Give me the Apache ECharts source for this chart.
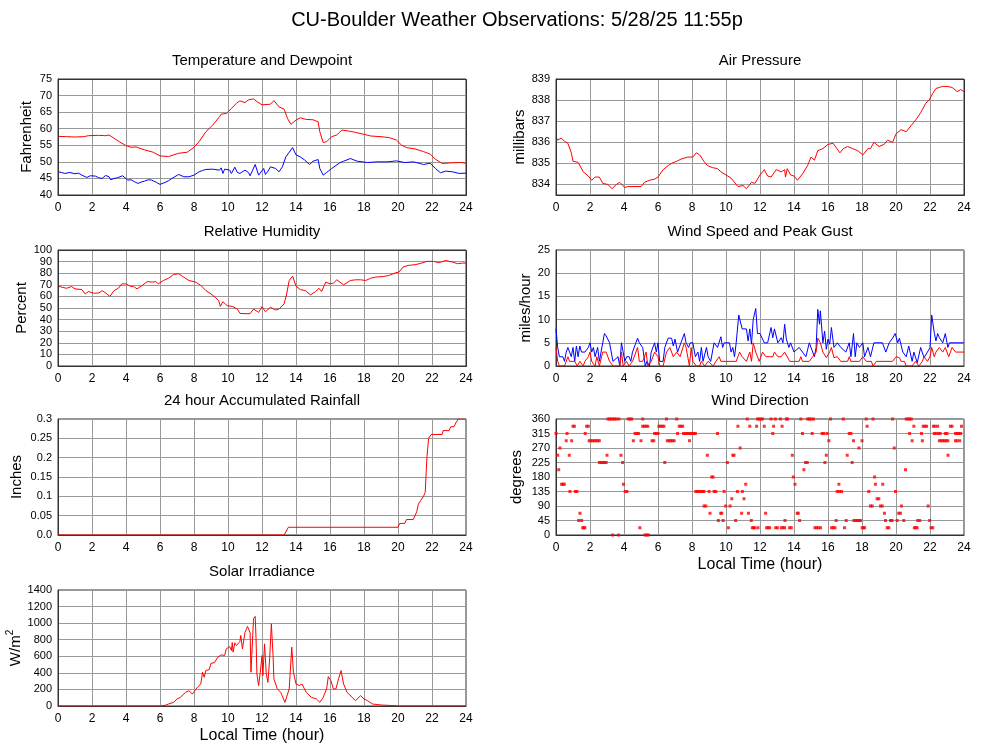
<!DOCTYPE html>
<html><head><meta charset="utf-8">
<script src="https://cdn.jsdelivr.net/npm/echarts@6/dist/echarts.min.js"></script>
<style>html,body{margin:0;padding:0;background:#fff}#c{width:1000px;height:745px}</style>
</head><body><div id="c"></div>
<script>
// ---------- DATA (hour, value) ----------
const temperature = [[0,57.7],[0.5,57.6],[1,57.5],[1.5,57.6],[1.8,57.9],[2.4,58],[2.8,57.9],[3.0,58.1],[3.3,57.1],[3.6,56.1],[4,54.9],[4.3,54.4],[4.6,54.5],[5.1,53.6],[5.6,52.9],[6.0,51.8],[6.5,51.6],[7.1,52.6],[7.6,52.9],[8.0,54.4],[8.3,56.1],[8.7,59.1],[9.1,61.1],[9.5,63.6],[9.6,64.4],[9.9,64.6],[10.2,66.1],[10.5,67.7],[10.7,68.4],[11.0,67.9],[11.2,68.7],[11.5,69],[11.7,68.2],[12.0,67.2],[12.5,67.4],[12.7,68.5],[13.0,66.6],[13.3,65.9],[13.5,63.1],[13.7,61.3],[14.0,62.6],[14.25,63.3],[14.6,62.8],[15.0,62.7],[15.3,62.1],[15.4,59.1],[15.6,55.8],[15.8,56.1],[16.1,57.6],[16.4,58.1],[16.7,59.6],[17.1,59.3],[17.5,58.9],[18.0,58.3],[18.4,57.8],[19.0,57.6],[19.5,57.3],[19.9,56.6],[20.2,55.1],[20.5,54.3],[21.0,53.9],[21.5,53.1],[21.9,52.3],[22.2,50.8],[22.6,49.5],[23.1,49.7],[23.7,49.8],[24,49.6]];
const dewpoint = [[0,47.0],[0.2,46.8],[0.4,46.5],[0.7,46.8],[1.0,46.4],[1.2,46.6],[1.4,46],[1.7,45.3],[1.9,45.8],[2.2,45.7],[2.4,45.2],[2.6,45],[2.8,45.9],[3.0,45.5],[3.1,44.6],[3.3,45],[3.5,45.2],[3.8,45.8],[4.1,44.5],[4.3,44.6],[4.5,44],[4.7,43.5],[4.9,43.9],[5.1,44.2],[5.3,44.6],[5.5,44.5],[5.8,43.8],[6.0,43.2],[6.3,43.8],[6.5,44.3],[6.7,45],[7.1,46.2],[7.4,45.5],[7.7,45.5],[8.0,46],[8.3,47],[8.5,47.4],[8.7,47.7],[9.1,47.8],[9.5,47.5],[9.6,48.2],[9.7,46.5],[9.8,47.8],[10.1,47.5],[10.2,46.5],[10.4,48.4],[10.55,46.8],[10.7,46.5],[11.0,47.5],[11.2,46.8],[11.3,45.8],[11.45,47.5],[11.6,49.2],[11.8,46],[12.1,48],[12.2,46.2],[12.35,47.2],[12.5,48.5],[12.8,48],[13.0,47],[13.2,48.5],[13.4,51.5],[13.6,52.9],[13.8,54.3],[14.0,52.1],[14.25,51.5],[14.5,50.6],[14.8,49.2],[15.0,50.2],[15.3,50.7],[15.4,48],[15.6,46],[15.8,46.8],[16.1,48],[16.6,49.8],[16.8,50.2],[17.2,51],[17.6,50.2],[18.2,49.8],[18.8,50],[19.4,50],[19.9,50.3],[20.4,49.8],[20.9,50],[21.3,49.5],[21.5,49.2],[21.9,49.6],[22.2,48],[22.5,46.7],[22.8,47.2],[23.2,47],[23.6,46.5],[24,46.6]];
const pressure = [[0,836.26],[0.1,836.1],[0.3,836.2],[0.5,836.05],[0.7,835.95],[0.9,835.5],[1.0,835.1],[1.3,835.05],[1.6,834.6],[1.9,834.4],[2.1,834.2],[2.3,834.35],[2.55,834.35],[2.75,834.05],[3.05,834.0],[3.3,833.8],[3.55,834.0],[3.75,834.1],[4.05,833.85],[4.2,833.9],[5.0,833.9],[5.2,834.1],[5.5,834.2],[5.8,834.25],[6.0,834.35],[6.3,834.7],[6.6,834.9],[6.8,835.0],[7.1,835.1],[7.35,835.2],[7.75,835.3],[8.05,835.3],[8.25,835.5],[8.45,835.4],[8.7,835.1],[8.9,834.9],[9.2,834.8],[9.5,834.75],[9.7,834.6],[10.0,834.45],[10.3,834.3],[10.7,833.9],[11.0,833.95],[11.2,833.8],[11.5,834.1],[11.7,834.05],[12.0,834.45],[12.25,834.7],[12.45,834.4],[12.65,834.35],[12.95,834.7],[13.25,834.6],[13.45,834.7],[13.5,834.35],[13.6,834.75],[13.8,834.45],[14.0,834.4],[14.2,834.2],[14.5,834.5],[14.8,834.9],[15.0,835.3],[15.2,835.15],[15.4,835.6],[15.7,835.7],[16.0,835.9],[16.3,835.95],[16.4,836.0],[16.7,835.5],[16.9,835.7],[17.15,835.8],[17.45,835.7],[17.75,835.6],[18.05,835.4],[18.35,835.7],[18.5,835.7],[18.7,836.0],[19.0,835.8],[19.3,835.9],[19.5,836.1],[19.8,836.0],[20.0,836.4],[20.3,836.6],[20.6,836.5],[20.9,836.8],[21.2,837.1],[21.45,837.4],[21.75,837.85],[21.95,838.0],[22.15,838.3],[22.35,838.55],[22.55,838.6],[22.75,838.65],[23.0,838.65],[23.3,838.6],[23.6,838.4],[23.8,838.5],[24,838.4]];
const humidity = [[0,68.8],[0.25,67.9],[0.5,67],[0.8,68.5],[1.0,66.5],[1.4,65.9],[1.6,62.1],[1.8,64.2],[2.1,62.7],[2.4,63],[2.6,65],[2.8,63],[3.05,60.1],[3.3,65],[3.55,67],[3.75,70.8],[4.0,70.8],[4.25,68.8],[4.45,68.5],[4.65,66.5],[4.95,69.4],[5.25,72.8],[5.55,72.3],[5.75,72.8],[5.9,70.8],[6.2,73.7],[6.5,75.7],[6.8,78.9],[7.1,79.5],[7.4,76.6],[7.7,73.7],[8.1,72.3],[8.4,69.4],[8.7,65],[9.0,62.1],[9.25,59.2],[9.45,56.4],[9.55,51.4],[9.7,55.5],[9.95,52],[10.25,51.4],[10.55,49.1],[10.7,45.4],[11.0,45.1],[11.3,45.1],[11.5,49.1],[11.8,46.2],[12.0,51.2],[12.2,46.8],[12.5,50.6],[12.8,48.3],[13.0,49.1],[13.3,53.5],[13.45,62.1],[13.6,73.7],[13.8,77.5],[14.0,68.8],[14.25,65.9],[14.55,65],[14.85,61.3],[15.15,64.2],[15.35,67],[15.5,64.2],[15.75,72.3],[16.0,70.8],[16.2,71.4],[16.4,74.3],[16.8,70],[17.2,73.7],[17.5,74.3],[17.8,74.3],[18.1,73.7],[18.4,75.7],[18.65,76.6],[19.15,77.2],[19.45,78],[19.85,80.3],[20.05,80.9],[20.3,85.3],[20.6,86.7],[21.0,87.3],[21.4,88.7],[21.7,90.2],[22.1,90.2],[22.4,89],[22.8,91],[23.2,89.6],[23.5,88.2],[23.8,88.7],[24,88.7]];
const windGust = [[0,8],[0.1,4],[0.2,2],[0.4,2],[0.5,1],[0.6,3],[0.7,4],[0.8,4],[0.9,2],[1.0,4],[1.1,1],[1.2,4.3],[1.3,2],[1.4,4.3],[1.5,3],[1.7,3],[1.9,4],[2.0,5],[2.1,3],[2.2,4],[2.3,2],[2.45,4],[2.55,1],[2.65,3],[2.85,7],[2.95,6.5],[3.15,5],[3.35,1],[3.45,1],[3.65,2],[3.75,0],[3.85,5],[3.95,5],[4.05,1],[4.15,2],[4.3,2],[4.4,1],[4.5,3],[4.7,5],[4.8,6],[4.9,5],[5.1,4],[5.25,0],[5.35,1],[5.5,0],[5.6,3],[5.8,5],[5.9,3],[6.0,5],[6.1,1],[6.3,1],[6.4,4],[6.6,6],[6.8,6],[6.9,4.3],[7.0,5.8],[7.15,3],[7.35,5],[7.55,7],[7.65,5],[7.8,4],[7.9,5],[8.05,5],[8.2,2],[8.35,3],[8.45,1],[8.55,4],[8.65,1],[8.85,4],[8.95,2],[9.1,1],[9.3,5],[9.5,4],[9.7,6.3],[9.8,4],[9.9,5],[10.2,5],[10.3,3],[10.4,4],[10.5,2],[10.6,5],[10.75,11],[10.85,11],[10.95,8],[11.2,8],[11.3,5.4],[11.4,8],[11.5,4.7],[11.6,10],[11.75,12.4],[11.85,7],[12.0,7],[12.25,5],[12.45,5],[12.65,8.3],[12.75,6.1],[12.85,8],[13.05,5],[13.25,6.1],[13.35,5],[13.45,9],[13.55,5.8],[13.7,4],[13.8,5],[14.0,3],[14.3,4],[14.5,3],[14.7,2],[14.9,5],[15.0,5],[15.2,2],[15.3,4],[15.4,12.2],[15.5,9],[15.55,11.9],[15.7,5],[15.8,7.5],[15.9,3.6],[16.0,5.8],[16.1,4.7],[16.2,8.3],[16.35,4],[16.55,5],[16.75,4],[17.05,3],[17.25,5],[17.35,2],[17.5,7],[17.6,2],[17.7,5],[17.85,4],[18.05,5],[18.15,2],[18.35,4],[18.5,2],[18.7,5],[19.0,5],[19.2,5],[19.4,3],[19.6,5],[19.8,6],[19.95,7],[20.1,5],[20.2,6],[20.4,3],[20.6,2],[20.75,4.3],[20.95,1],[21.05,3],[21.25,0.7],[21.45,4],[21.65,1.8],[21.85,3],[22.0,4],[22.1,11],[22.25,7.2],[22.35,5.4],[22.45,7],[22.55,6.1],[22.75,5],[22.9,7],[23.05,4],[23.15,5],[23.35,5],[24,5]];
const windSpeed = [[0,4],[0.1,1],[0.2,0],[0.5,0],[0.7,2],[0.8,1],[1.1,1],[1.25,0],[1.4,1],[1.6,0],[1.7,1],[1.9,2],[2.0,3],[2.1,1],[2.3,0],[2.4,2],[2.55,0],[2.75,3],[2.95,3],[3.15,1],[3.35,0],[3.75,0],[3.85,3],[3.95,0],[4.15,1],[4.3,0],[4.5,1],[4.8,4],[4.9,1],[5.1,1],[5.3,3],[5.4,0],[5.6,1],[5.8,3],[6.0,2],[6.1,0],[6.3,0],[6.5,3],[6.7,4],[6.9,2],[7.1,3],[7.3,2],[7.55,5],[7.65,4],[7.85,0],[7.95,4],[8.05,1],[8.25,0],[8.45,0],[8.55,1],[8.75,0],[8.95,1],[9.25,0],[9.4,1],[9.6,2],[9.7,1],[10.0,1],[10.6,1],[10.7,2],[10.8,3],[10.95,2],[11.2,1],[11.4,3],[11.5,1],[11.6,5],[11.75,3],[11.95,1],[12.15,3],[12.35,2],[12.55,2],[12.75,2],[12.85,3],[13.05,2],[13.25,2],[13.45,3],[13.55,3],[13.75,1],[13.95,1],[14.3,1],[14.4,2],[14.5,1],[14.9,1],[15.1,2],[15.3,3],[15.4,6],[15.55,5],[15.7,3],[15.9,1.8],[16.1,3],[16.2,4],[16.35,1.8],[16.55,2],[16.75,1],[17.15,1],[17.25,2],[17.35,1],[17.85,1],[18.05,2],[18.25,1],[18.55,1],[18.65,0],[18.85,1],[19.8,1],[20.0,2],[20.2,1.8],[20.3,1],[20.5,1],[20.6,0],[20.95,0],[21.15,1],[21.35,0],[21.55,1],[21.65,2],[21.85,1],[22.0,2],[22.1,4],[22.25,2],[22.35,3],[22.55,4],[22.75,3],[22.9,4],[23.1,2],[23.3,4],[23.5,3],[23.7,3],[24,3]];
const rainfall = [[0,0],[13.3,0],[13.55,0.02],[20.0,0.02],[20.1,0.03],[20.4,0.03],[20.5,0.04],[20.9,0.04],[21.0,0.05],[21.1,0.06],[21.2,0.08],[21.35,0.09],[21.5,0.10],[21.6,0.11],[21.7,0.20],[21.8,0.25],[21.95,0.26],[22.6,0.26],[22.65,0.27],[23.0,0.27],[23.1,0.28],[23.3,0.28],[23.4,0.29],[23.55,0.30],[24,0.30]];
const solar = [[0,0],[6.0,0],[6.3,8],[6.5,24],[6.8,44],[7.0,85],[7.2,105],[7.3,95],[7.5,165],[7.7,185],[7.9,145],[8.0,165],[8.2,226],[8.4,266],[8.5,407],[8.6,347],[8.7,428],[8.9,440],[9.0,516],[9.2,523],[9.4,589],[9.6,617],[9.8,610],[9.9,690],[10.1,718],[10.2,670],[10.25,765],[10.3,650],[10.4,762],[10.5,730],[10.7,779],[10.75,851],[10.85,690],[11.0,891],[11.15,960],[11.3,883],[11.35,407],[11.4,609],[11.5,1053],[11.6,1081],[11.65,811],[11.7,387],[11.8,246],[11.9,407],[12.0,609],[12.05,367],[12.15,750],[12.25,387],[12.35,286],[12.45,569],[12.55,992],[12.65,609],[12.7,327],[12.9,206],[13.1,165],[13.2,185],[13.35,44],[13.45,44],[13.6,206],[13.75,710],[13.85,407],[14.0,266],[14.2,246],[14.35,266],[14.6,165],[14.9,105],[15.2,85],[15.4,44],[15.6,105],[15.8,206],[15.9,355],[16.05,307],[16.2,206],[16.35,206],[16.5,327],[16.65,428],[16.8,266],[17.0,165],[17.3,105],[17.5,65],[17.8,125],[18.0,85],[18.2,65],[18.5,24],[19.0,12],[19.8,4],[20,0],[24,0]];
const dir0 = [3.33,3.68,5.23,5.33,5.44];
const dir22 = [1.57,1.64,1.7,4.93,10.14,11.55,11.62,11.69,11.88,12.39,12.48,12.57,12.92,13.02,13.25,13.35,13.45,13.74,13.84,15.23,15.33,15.43,15.56,16.21,16.31,16.41,16.97,18.01,18.08,18.15,19.48,19.58,21.08,21.16,21.24,22.06,22.16];
const dir45 = [1.33,1.51,9.55,9.83,10.57,11.49,13.47,14.33,16.48,17.07,17.52,17.62,17.72,17.82,17.91,19.38,19.68,19.77,20.07,20.46,21.28,21.4,21.98];
const dir67 = [1.41,9.06,9.69,9.75,10.92,11.32,12.33,14.19,14.25,19.32,20.16,20.26];
const dir90 = [8.71,8.81,9.98,10.24,18.5,18.6,19.09,19.19,20.32,21.89];
const dir112 = [10.34,11.06,18.89,18.99];
const dir135 = [0.82,1.14,1.23,4.07,4.17,8.22,8.32,8.42,8.52,8.62,8.71,9.0,9.3,9.4,9.89,10.67,10.96,16.54,16.67,16.8,18.4,19.97];
const dir157 = [0.33,0.41,0.49,3.97,11.16,14.06,16.64,18.79,19.22];
const dir180 = [9.16,9.24,13.96,18.74];
const dir202 = [0.16,14.58,20.56];
const dir225 = [2.55,2.65,2.75,2.85,2.95,3.92,6.4,10.08,14.68,14.78,15.82,17.42];
const dir247 = [0.1,0.78,3.0,3.82,8.9,10.4,10.47,13.9,15.9,17.13,23.06];
const dir270 = [0.23,10.83,17.82,19.9];
const dir292 = [0.6,0.92,1.95,2.05,2.15,2.25,2.35,2.45,2.55,4.55,5.0,5.65,5.75,6.55,6.65,6.75,6.85,6.95,7.85,16.05,17.5,18.0,20.95,21.55,22.55,22.65,22.75,22.85,22.95,23.05,23.5,23.6,23.75];
const dir315 = [0.0,0.65,1.72,4.65,4.75,4.85,5.8,5.9,6.0,7.15,7.5,7.6,7.7,7.8,7.9,8.0,8.1,8.2,9.5,12.75,14.5,15.07,15.65,15.75,15.95,17.25,17.35,20.8,21.5,22.25,22.35,22.5,22.6,22.9,23.0,23.5,23.6,23.7,23.8];
const dir337 = [1.0,1.08,1.8,1.9,5.1,5.2,5.3,5.4,6.05,6.15,6.25,6.35,7.25,7.35,7.45,10.7,11.4,11.8,12.25,12.8,13.3,18.3,21.05,21.6,21.7,21.8,22.2,22.3,22.45,23.2,23.3,23.85];
const dir360 = [3.05,3.15,3.25,3.35,3.45,3.55,3.7,4.25,4.35,4.45,5.1,6.5,7.1,11.25,11.85,11.95,12.05,12.15,12.65,12.9,13.2,13.55,13.62,14.4,14.8,14.9,15.0,15.15,16.15,16.9,18.25,18.65,19.8,20.6,20.7,20.8,20.9];

// ---------- BUILD ----------
const dirGroups = [[0,dir0],[22.5,dir22],[45,dir45],[67.5,dir67],[90,dir90],[112.5,dir112],[135,dir135],[157.5,dir157],[180,dir180],[202.5,dir202],[225,dir225],[247.5,dir247],[270,dir270],[292.5,dir292],[315,dir315],[337.5,dir337],[360,dir360]];
const windDir = [];
dirGroups.forEach(([d, hs]) => hs.forEach(h => windDir.push([h, d])));

const FONT = 'Liberation Sans';
const LEFTX = 58, RIGHTX = 556, W = 408;
const ROWS = [79, 250, 419, 590], H = 116;
const panels = [
  {col:LEFTX,  row:0, title:'Temperature and Dewpoint', name:'Fahrenheit', gap:24, min:40, max:75, interval:5, frame:true},
  {col:RIGHTX, row:0, title:'Air Pressure', name:'millibars', gap:28, min:833.5, max:839, splitNumber:5, pressure:true, frame:true},
  {col:LEFTX,  row:1, title:'Relative Humidity', name:'Percent', gap:29, min:0, max:100, interval:10, frame:true},
  {col:RIGHTX, row:1, title:'Wind Speed and Peak Gust', name:'miles/hour', gap:23, min:0, max:25, interval:5},
  {col:LEFTX,  row:2, title:'24 hour Accumulated Rainfall', name:'Inches', gap:34, min:0, max:0.3, interval:0.05, rain:true},
  {col:RIGHTX, row:2, title:'Wind Direction', name:'degrees', gap:32, min:0, max:360, interval:45, xname:true},
  {col:LEFTX,  row:3, title:'Solar Irradiance', name:'{a|W/m}{s|2}', gap:34, min:0, max:1400, interval:200, xname:true, rich:true}
];

const grids = [], xAxes = [], yAxes = [], graphics = [];
graphics.push({type:'text', x:517, y:20, style:{text:'CU-Boulder Weather Observations: 5/28/25 11:55p', font:'20px "'+FONT+'"', fill:'#000', align:'center', verticalAlign:'middle'}});
panels.forEach((p, i) => {
  const top = ROWS[p.row];
  grids.push({left:p.col, top:top, width:W, height:H, show:true, borderColor:'#333', borderWidth:1,
    backgroundColor:'#fff', containLabel:false, outerBoundsMode:'none'});
  graphics.push({type:'text', x:p.col + W/2, y:top - 18, style:{text:p.title, font:'15px "'+FONT+'"', fill:'#000', align:'center', verticalAlign:'middle'}});
  if (p.frame) {
    graphics.push({type:'rect', silent:true, z:100, shape:{x:p.col + 0.5, y:top + 0.5, width:W, height:H},
      style:{fill:'none', stroke:'#333', lineWidth:1}});
  }
  xAxes.push({
    type:'value', gridIndex:i, min:0, max:24, interval:2,
    axisLine:{show:true, onZero:false, lineStyle:{color:'#333'}},
    axisTick:{show:false},
    axisLabel:{color:'#000', fontFamily:FONT, fontSize:12, margin:7, showMinLabel:true, showMaxLabel:true, hideOverlap:false},
    splitLine:{show:true, lineStyle:{color:'#999', width:1}},
    name: p.xname ? 'Local Time (hour)' : '', nameLocation:'middle', nameGap:22,
    nameTextStyle:{color:'#000', fontFamily:FONT, fontSize:16}
  });
  const y = {
    type:'value', gridIndex:i, min:p.min, max:p.max,
    axisLine:{show:true, onZero:false, lineStyle:{color:'#333'}},
    axisTick:{show:false},
    axisLabel:{color:'#000', fontFamily:FONT, fontSize:11, margin:6, showMinLabel:true, showMaxLabel:true, hideOverlap:false,
      formatter: v => String(+v.toFixed(2))},
    splitLine:{show:true, lineStyle:{color:'#999', width:1}},
    name:p.name, nameLocation:'middle', nameGap:p.gap, nameRotate:90,
    nameTextStyle:{color:'#000', fontFamily:FONT, fontSize:15}
  };
  if (p.interval !== undefined) y.interval = p.interval;
  if (p.splitNumber) y.splitNumber = p.splitNumber;
  if (p.pressure) y.axisLabel.showMinLabel = false;
  if (p.rain) y.axisLabel.formatter = v => v === 0 ? '0.0' : String(+v.toFixed(2));
  if (p.rich) y.nameTextStyle.rich = {
    a:{fontFamily:FONT, fontSize:15, color:'#000', verticalAlign:'bottom', lineHeight:18},
    s:{fontFamily:FONT, fontSize:10, color:'#000', verticalAlign:'top', lineHeight:18}
  };
  yAxes.push(y);
});

function line(idx, data, color) {
  return {type:'line', xAxisIndex:idx, yAxisIndex:idx, data:data, showSymbol:false, symbol:'none', clip:true,
    lineStyle:{color:color, width:1}, itemStyle:{color:color}, animation:false, silent:true};
}
const series = [
  line(0, temperature, '#ff0000'),
  line(0, dewpoint, '#0000ff'),
  line(1, pressure, '#ff0000'),
  line(2, humidity, '#ff0000'),
  line(3, windGust, '#0000ff'),
  line(3, windSpeed, '#ff0000'),
  line(4, rainfall, '#ff0000'),
  {type:'scatter', xAxisIndex:5, yAxisIndex:5, data:windDir, symbol:'rect', symbolSize:3,
    itemStyle:{color:'#ff0000'}, animation:false, silent:true},
  line(6, solar, '#ff0000')
];

const chart = echarts.init(document.getElementById('c'), null, {renderer:'canvas'});
chart.setOption({animation:false, backgroundColor:'#fff', grid:grids, xAxis:xAxes, yAxis:yAxes, series:series, graphic:graphics});
</script></body></html>
